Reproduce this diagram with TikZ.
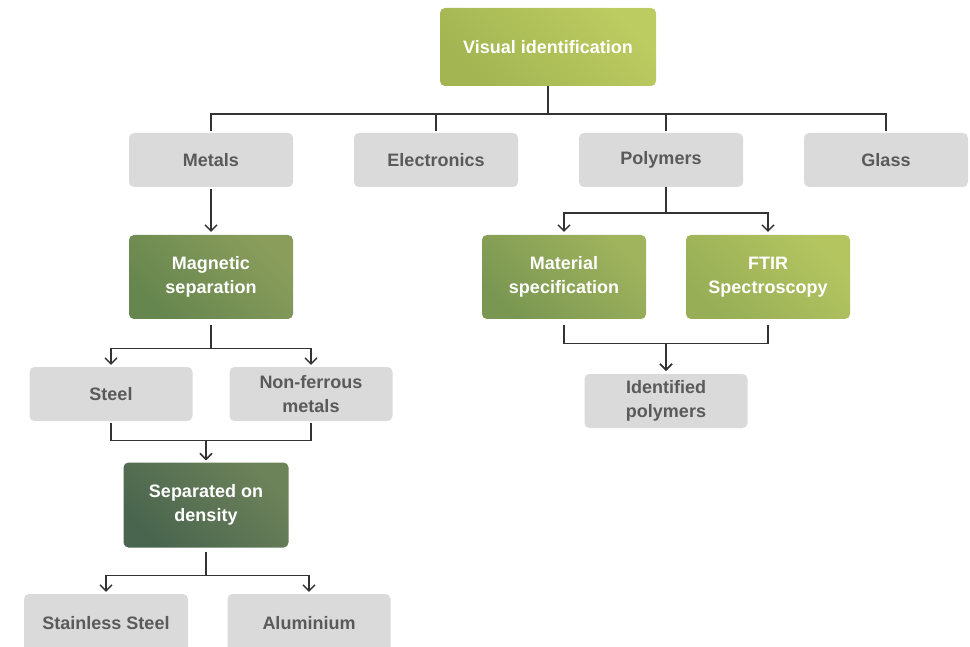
\documentclass[tikz,border=0pt]{standalone}
\usepackage{fontspec}
\setmainfont{Liberation Sans}
\usetikzlibrary{positioning,arrows.meta}
\definecolor{boxgray}{HTML}{DADADA}
\definecolor{txtgray}{HTML}{5A5A5A}
\definecolor{linegray}{HTML}{333333}
\definecolor{visdark}{HTML}{A2B552}
\definecolor{vislight}{HTML}{BDCC61}
\definecolor{magdark}{HTML}{66864F}
\definecolor{maglight}{HTML}{8A9D5B}
\definecolor{matdark}{HTML}{7A9752}
\definecolor{matlight}{HTML}{A0B35D}
\definecolor{ftirdark}{HTML}{97AE57}
\definecolor{ftirlight}{HTML}{B4C560}
\definecolor{densdark}{HTML}{4A654F}
\definecolor{denslight}{HTML}{6C8259}
\tikzset{
  base/.style={rounded corners=5pt, align=center, inner sep=0pt,
    font=\fontsize{18}{24}\selectfont\bfseries, minimum width=164pt},
  graybox/.style={base, fill=boxgray, text=txtgray, minimum height=54pt},
  greenbox/.style={base, text=white, minimum height=84pt,
    bottom color=#1dark, top color=#1light, shading angle=-45},
  link/.style={draw=linegray, line width=1.4pt},
  arr/.style={link, -{Straight Barb[length=6pt,width=12pt]}}
}
\begin{document}
\begin{tikzpicture}[x=1pt,y=-1pt]
\useasboundingbox (0,0) rectangle (970,647);
\node[greenbox=vis, minimum width=216pt, minimum height=78pt] (vis) at (548,47) {Visual identification};
\node[graybox] (metals) at (211,160) {Metals};
\node[graybox] (electronics) at (436,160) {Electronics};
\node[graybox] (polymers) at (661,160) {Polymers};
\node[graybox] (glass) at (886,160) {Glass};
\node[greenbox=mag] (magnetic) at (211,277) {Magnetic\\separation};
\node[greenbox=mat] (material) at (564,277) {Material\\specification};
\node[greenbox=ftir] (ftir) at (768,277) {FTIR\\Spectroscopy};
\node[graybox, minimum width=163pt] (steel) at (111,394) {Steel};
\node[graybox, minimum width=163pt] (nonferrous) at (311,394) {Non-ferrous\\metals};
\node[graybox, minimum width=163pt] (identified) at (666,401) {Identified\\polymers};
\node[greenbox=dens, minimum width=165pt, minimum height=85pt] (density) at (206,505) {Separated on\\density};
\node[graybox, minimum height=58pt] (stainless) at (106,623) {Stainless Steel};
\node[graybox, minimum width=163pt, minimum height=58pt] (aluminium) at (309,623) {Aluminium};

\foreach \n in {metals,electronics,glass}
  \draw[link, shorten >=2pt] (vis.south) -- ++(0,28) -| (\n.north);
\draw[link, shorten >=2pt] (vis.south) -- ++(0,28) -| ([xshift=5pt]polymers.north);
\draw[arr, shorten <=2pt, shorten >=3pt] (metals.south) -- (magnetic.north);
\foreach \n in {steel,nonferrous}
  \draw[arr, shorten <=6pt, shorten >=2pt] (magnetic.south) -- ++(0,29) -| (\n.north);
\foreach \n in {steel,nonferrous}
  \draw[arr, shorten <=2pt, shorten >=2pt] (\n.south) |- ++(0,19) -| (density.north);
\foreach \n in {stainless,aluminium}
  \draw[arr, shorten <=4pt, shorten >=2pt] (density.south) -- ++(0,28) -| (\n.north);
\foreach \n in {material,ftir}
  \draw[arr, shorten >=3pt] ([xshift=5pt]polymers.south) -- ++(0,26) -| (\n.north);
\foreach \n in {material,ftir}
  \draw[arr, shorten <=6pt, shorten >=3pt] (\n.south) -- ++(0,24) -| (identified.north);
\end{tikzpicture}
\end{document}
